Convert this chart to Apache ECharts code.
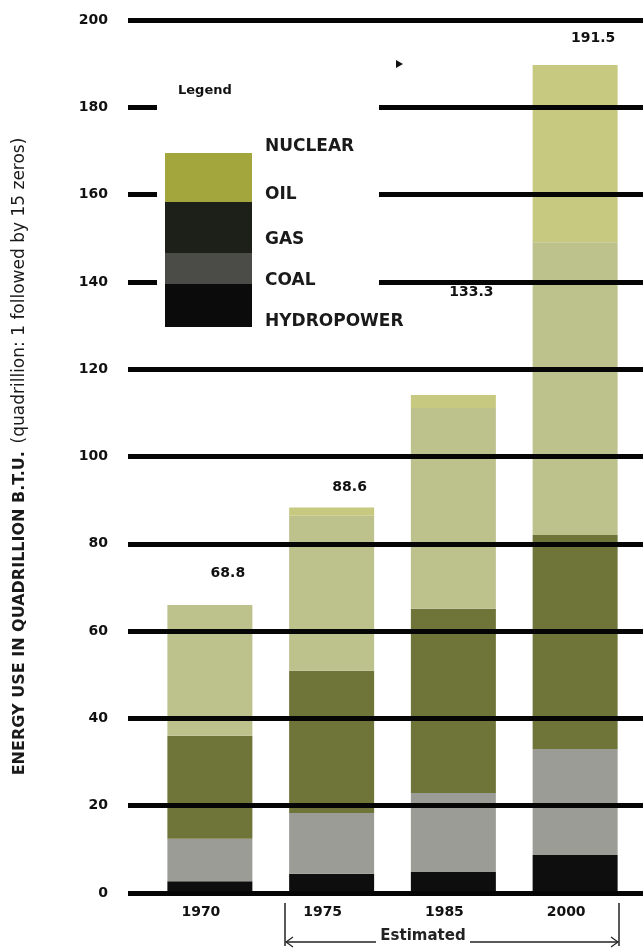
<!DOCTYPE html>
<html>
<head>
<meta charset="utf-8">
<title>Energy use</title>
<script src="https://cdn.jsdelivr.net/npm/echarts@6/dist/echarts.min.js"></script>
<style>
	html, body {margin:0; padding:0; background:#fff;}
	#main {width:643px; height:948px;}
</style>
</head>
<body>
<div id="main"></div>
<script>
//categories
var years = ['1970', '1975', '1985', '2000'];
//stack values, quadrillion B.T.U.
var hydro   = [2.7, 4.4, 4.8, 8.7];
var coal    = [9.7, 13.9, 18.1, 24.3];
var gas     = [23.6, 32.6, 42.2, 49.0];
var oil     = [30.0, 35.5, 46.0, 67.1];
var nuclear = [0, 1.9, 3.0, 40.6];
//printed totals
var totals  = [68.8, 88.6, 133.3, 191.5];
//legend rows, top to bottom
var legendNames = ['NUCLEAR', 'OIL', 'GAS', 'COAL', 'HYDROPOWER'];

var FONT = 'DejaVu Sans';

var barSeries = function(name, data, color){
	return {
		name: name,
		type: 'bar',
		stack: 'total',
		xAxisIndex: 0,
		yAxisIndex: 0,
		barWidth: 85,
		data: data,
		itemStyle: {color: color}
	};
};

var legendGraphic = function(){
	var els = [];
	//white patch breaking the 140-180 lines behind the legend
	els.push({type:'rect', z:50, shape:{x:157, y:88, width:222, height:210}, style:{fill:'#fff'}});
	els.push({type:'text', z:51, left:178, top:84, style:{text:'Legend', font:'bold 13px ' + FONT, fill:'#111'}});
	//swatch bands
	var bands = [
		[153, 49, '#a3a63d'],
		[202, 51, '#1d2019'],
		[253, 31, '#4b4b48'],
		[284, 43, '#0b0b0b']
	];
	for(var i = 0; i < bands.length; i++){
		els.push({type:'rect', z:51, shape:{x:165, y:bands[i][0], width:87, height:bands[i][1]}, style:{fill:bands[i][2]}});
	}
	var labelY = [147, 195, 240, 281, 322];
	for(var j = 0; j < legendNames.length; j++){
		els.push({type:'text', z:51, x:265, y:labelY[j], style:{text:legendNames[j], font:'bold 17px ' + FONT, fill:'#1a1a1a', verticalAlign:'middle'}});
	}
	//small pointer mark
	els.push({type:'polygon', z:51, shape:{points:[[396,60],[403,64],[396,68]]}, style:{fill:'#111'}});
	//"Estimated" bracket
	var ln = {stroke:'#222', lineWidth:1.5};
	els.push({type:'line', z:51, shape:{x1:285, y1:903, x2:285, y2:946}, style:ln});
	els.push({type:'line', z:51, shape:{x1:619, y1:903, x2:619, y2:946}, style:ln});
	els.push({type:'line', z:51, shape:{x1:286, y1:942, x2:376, y2:942}, style:ln});
	els.push({type:'line', z:51, shape:{x1:470, y1:942, x2:618, y2:942}, style:ln});
	els.push({type:'polyline', z:51, shape:{points:[[293,937],[286,942],[293,947]]}, style:{stroke:'#222', lineWidth:1.2, fill:null}});
	els.push({type:'polyline', z:51, shape:{points:[[611,937],[618,942],[611,947]]}, style:{stroke:'#222', lineWidth:1.2, fill:null}});
	els.push({type:'text', z:51, x:423, y:936, style:{text:'Estimated', font:'bold 15px ' + FONT, fill:'#222', align:'center', verticalAlign:'middle'}});
	return els;
};

var myChart = echarts.init(document.getElementById('main'));

var option = {
	backgroundColor: '#fff',
	animation: false,
	textStyle: {fontFamily: FONT},
	grid: [
		//bars
		{left:149, right:7, top:20, bottom:55},
		//full-width rules drawn over the bars
		{left:128, right:0, top:20, bottom:55}
	],
	xAxis: [
		{
			type: 'category',
			gridIndex: 0,
			data: years,
			axisLine: {show:false},
			axisTick: {show:false},
			axisLabel: {
				margin: 12,
				color: '#111',
				fontWeight: 'bold',
				fontSize: 14,
				fontFamily: FONT,
				padding: [0, 18, 0, 0]
			}
		},
		{type:'value', gridIndex:1, min:0, max:1, show:false}
	],
	yAxis: [
		{type:'value', gridIndex:0, min:0, max:200, interval:20, show:false},
		{
			type: 'value',
			gridIndex: 1,
			min: 0,
			max: 200,
			interval: 20,
			z: 10,
			axisLine: {show:false},
			axisTick: {show:false},
			splitLine: {show:true, lineStyle:{color:'#050505', width:5}},
			axisLabel: {margin:20, color:'#111', fontWeight:'bold', fontSize:14, fontFamily:FONT},
			name: '{b|ENERGY USE IN QUADRILLION B.T.U.}  {n|(quadrillion: 1 followed by 15 zeros)}',
			nameLocation: 'middle',
			nameRotate: 90,
			nameGap: 100,
			nameTextStyle: {
				rich: {
					b: {fontSize:16, fontWeight:'bold', color:'#1a1a1a', fontFamily:FONT},
					n: {fontSize:17, color:'#1a1a1a', fontFamily:FONT}
				}
			}
		}
	],
	series: [
		barSeries('HYDROPOWER', hydro, '#0e0e0e'),
		barSeries('COAL', coal, '#9c9c97'),
		barSeries('GAS', gas, '#6f7538'),
		barSeries('OIL', oil, '#bdc18c'),
		barSeries('NUCLEAR', nuclear, '#c8c980'),
		{
			name: 'total',
			type: 'scatter',
			xAxisIndex: 0,
			yAxisIndex: 0,
			symbolSize: 0,
			itemStyle: {opacity: 1},
			data: totals,
			label: {
				show: true,
				position: 'top',
				distance: 12,
				offset: [18, 0],
				color: '#111',
				fontWeight: 'bold',
				fontSize: 14,
				fontFamily: FONT,
				formatter: '{c}'
			}
		}
	],
	graphic: legendGraphic()
};

myChart.setOption(option);
</script>
</body>
</html>
